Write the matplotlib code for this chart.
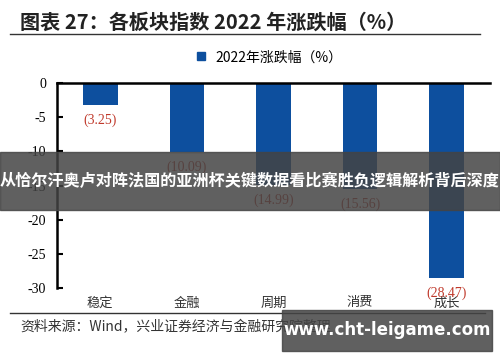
import matplotlib
matplotlib.use("Agg")
import matplotlib.pyplot as plt
from matplotlib.lines import Line2D

categories = ["稳定", "金融", "周期", "消费", "成长"]
values = [-3.25, -10.09, -14.99, -15.56, -28.47]
yticks = [0, -5, -10, -15, -20, -25, -30]
legend_label = "2022年涨跌幅（%）"
title = "图表 27：各板块指数 2022 年涨跌幅（%）"
source = "资料来源：Wind，兴业证券经济与金融研究院整理"
banner = "从恰尔汗奥卢对阵法国的亚洲杯关键数据看比赛胜负逻辑解析背后深度"
watermark = "www.cht-leigame.com"

cjk = ["Noto Sans CJK SC", "DejaVu Sans"]
serif = ["Liberation Serif", "Noto Sans CJK SC"]
plt.rcParams["font.family"] = serif

fig = plt.figure(figsize=(5, 3.62), dpi=100)
ax = fig.add_axes([0.114, 0.204, 0.866, 0.567])
bar_color = "#0d4f9e"
x = list(range(len(categories)))
ax.bar(x, values, width=0.4, color=bar_color)
ax.set_xlim(-0.5, 4.5)
ax.set_ylim(-30, 0)
ax.set_yticks(yticks)
ax.set_yticklabels([str(v) for v in yticks], fontsize=10)
ax.tick_params(axis="y", direction="in", length=4, width=1.5, pad=8)
ax.set_xticks(x)
ax.set_xticklabels(categories, fontsize=9.5, family=cjk, color="#333333")
ax.tick_params(axis="x", length=0, pad=6)
for s in ["right", "bottom"]:
    ax.spines[s].set_visible(False)
ax.spines["left"].set_linewidth(1.8)
ax.spines["top"].set_linewidth(1.8)

for xi, v in zip(x, values):
    ax.annotate(f"({abs(v):.2f})", (xi, v), xytext=(0, -6), textcoords="offset points",
                ha="center", va="top", fontsize=10, color="#c0392b", annotation_clip=False)

ax.legend(handles=[Line2D([], [], marker="s", linestyle="none", color=bar_color, markersize=6)],
          labels=[legend_label], loc="lower center", bbox_to_anchor=(0.48, 1.03),
          frameon=False, handletextpad=0.1, prop={"family": cjk, "size": 10})

fig.text(0.04, 0.94, title, fontsize=14.5, fontweight="bold", family=cjk, va="center", color="#222222")
fig.add_artist(Line2D([0.02, 0.96], [0.905, 0.905], color="#333333", lw=1))
fig.add_artist(Line2D([0.02, 0.97], [0.135, 0.135], color="#333333", lw=1))
fig.text(0.04, 0.097, source, fontsize=10, family=cjk, va="center", color="#333333")

fig.patches.append(plt.Rectangle((0, 0.42), 1, 0.16, transform=fig.transFigure,
                                 color="#444444", alpha=0.85, zorder=5))
fig.text(0.5, 0.50, banner, fontsize=11.6, fontweight="bold", family=cjk, color="white",
         ha="center", va="center", zorder=6)
fig.patches.append(plt.Rectangle((0.563, 0.03), 0.42, 0.115, transform=fig.transFigure,
                                 color="#444444", alpha=0.85, zorder=5))
fig.text(0.775, 0.088, watermark, fontsize=12, fontweight="bold", family=["DejaVu Sans"],
         color="white", ha="center", va="center", zorder=6)

fig.savefig("out.png", dpi=100)
